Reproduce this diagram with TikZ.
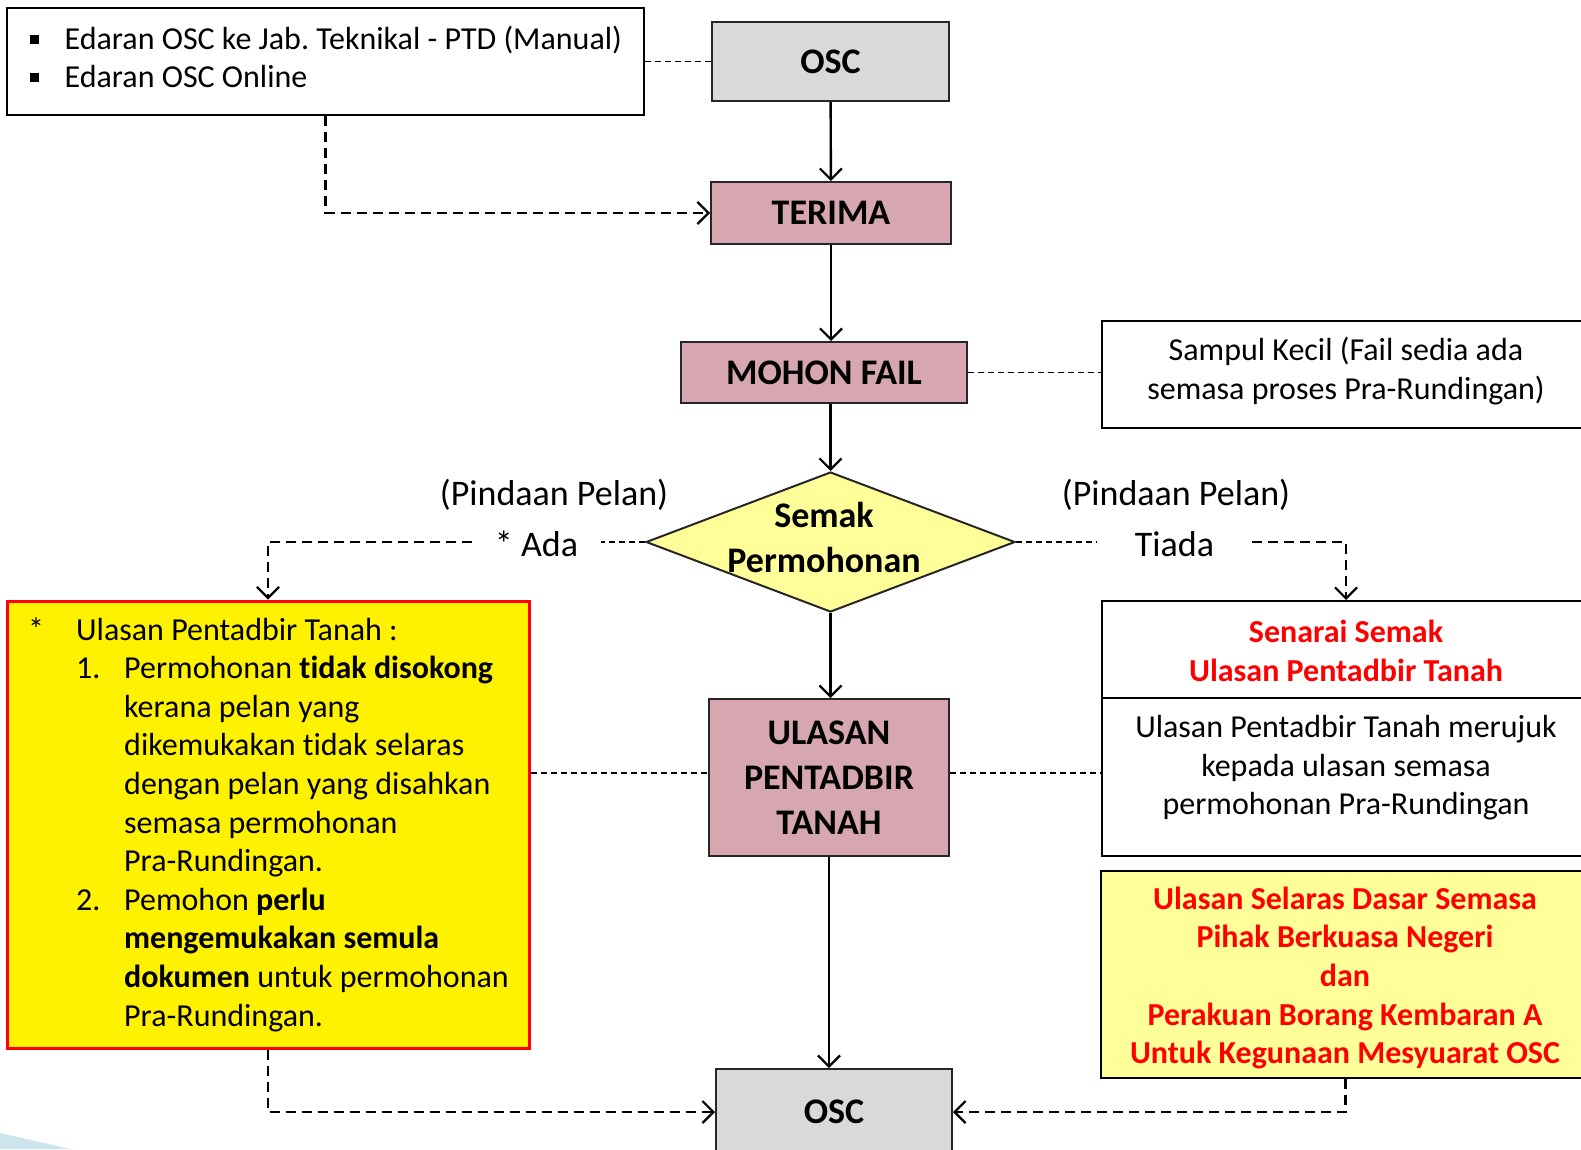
\documentclass[tikz,border=0pt]{standalone}
\usepackage{fontspec}
\setmainfont{Carlito}[Ligatures=NoCommon]
\usetikzlibrary{arrows.meta,shapes.geometric}
\definecolor{pinkbox}{RGB}{214,166,177}
\definecolor{graybox}{RGB}{217,217,217}
\definecolor{lyellow}{RGB}{255,255,153}
\definecolor{redtxt}{RGB}{255,0,0}
\definecolor{deco}{RGB}{205,228,238}
\newcommand{\bodyfont}{\fontsize{32}{38.6}\selectfont}
\newcommand{\lblfont}{\fontsize{36}{45}\selectfont\bfseries}
\newcommand{\midfont}{\fontsize{36}{44}\selectfont}
\frenchspacing
\begin{document}
\begin{tikzpicture}[x=1pt,y=-1pt,
  box/.style={draw=black!85,line width=2pt,inner sep=0pt,rectangle},
  tip/.style={-{Straight Barb[length=11pt,width=22pt,line width=2.2pt]}},
  flow/.style={line width=2.4pt,tip},
  thindash/.style={line width=1.7pt,dash pattern=on 6pt off 4pt},
  thickdash/.style={line width=2.8pt,dash pattern=on 10pt off 6pt},
]
\useasboundingbox (0,0) rectangle (1581,1149);
\fill[deco] (0,1133) -- (70,1149) -- (0,1149) -- cycle;

% main flow
\node[box,fill=graybox,minimum width=237pt,minimum height=79pt,font=\lblfont] (osc1) at (830.5,61.5) {OSC};
\node[box,fill=pinkbox,minimum width=240pt,minimum height=62pt,font=\lblfont] (terima) at (831,213) {TERIMA};
\node[box,fill=pinkbox,minimum width=286pt,minimum height=61pt,font=\lblfont] (mohon) at (824,372.5) {MOHON FAIL};
\node[diamond,draw=black!85,line width=2pt,fill=lyellow,inner sep=0pt,minimum width=369pt,minimum height=140pt] (semak) at (830.5,542) {};
\node[font=\lblfont,align=center] (semaktxt) at (824,537) {Semak\\Permohonan};
\node[box,fill=pinkbox,minimum width=240pt,minimum height=157pt,font=\lblfont,align=center] (ulasan) at (829,777.5) {ULASAN\\PENTADBIR\\TANAH};
\node[box,fill=graybox,minimum width=236pt,minimum height=86pt,font=\lblfont] (osc2) at (834,1112) {OSC};

% top-left note
\node[box,draw=black,minimum width=637pt,minimum height=107pt] (edaran) at (325.5,61.5) {};
\node[anchor=base west,inner sep=0pt,font=\bodyfont] (edarantxt) at (30,49) {\begin{tabular}[t]{@{}p{34.5pt}@{}l@{}}\raisebox{5.5pt}{\rule{9pt}{9pt}} & Edaran OSC ke Jab. Teknikal - PTD (Manual)\\ \raisebox{5.5pt}{\rule{9pt}{9pt}} & Edaran OSC Online\end{tabular}};

% Sampul
\node[box,draw=black,minimum width=488pt,minimum height=107pt] (sampul) at (1346,374.5) {};
\node[font=\bodyfont,align=center] (sampultxt) at (1346,371) {Sampul Kecil (Fail sedia ada\\semasa proses Pra-Rundingan)};

% Senarai semak
\node[box,draw=black,minimum width=488pt,minimum height=255pt] (senarai) at (1346,728.5) {};
\coordinate (divL) at (1102,698);
\coordinate (divR) at (1590,698);
\draw[line width=2pt] (divL) -- (divR);
\node[font=\bodyfont\bfseries,text=redtxt,align=center] (senaraititle) at (1346,651) {Senarai Semak\\Ulasan Pentadbir Tanah};
\node[font=\bodyfont,align=center] (senaraitxt) at (1346,768) {Ulasan Pentadbir Tanah merujuk\\kepada ulasan semasa\\permohonan Pra-Rundingan};

% right yellow
\node[box,draw=black,fill=lyellow,minimum width=489pt,minimum height=207pt] (pbn) at (1345.5,974.5) {};
\node[font=\bodyfont\bfseries,text=redtxt,align=center] (pbntxt) at (1345,978) {Ulasan Selaras Dasar Semasa\\Pihak Berkuasa Negeri\\dan\\Perakuan Borang Kembaran A\\Untuk Kegunaan Mesyuarat OSC};

% left yellow
\node[draw=redtxt,line width=3pt,fill=yellow,inner sep=0pt,minimum width=522pt,minimum height=447pt] (pta) at (268,824.5) {};
\node[anchor=base west,inner sep=0pt,font=\bodyfont] (ptatxt) at (28,640) {\begin{tabular}[t]{@{}p{48pt}@{}p{48pt}@{}l@{}}
* & \multicolumn{2}{@{}l@{}}{Ulasan Pentadbir Tanah :}\\
& 1. & Permohonan \textbf{tidak disokong}\\
&& kerana pelan yang\\
&& dikemukakan tidak selaras\\
&& dengan pelan yang disahkan\\
&& semasa permohonan\\
&& Pra-Rundingan.\\
& 2. & Pemohon \textbf{perlu}\\
&& \textbf{mengemukakan semula}\\
&& \textbf{dokumen} untuk permohonan\\
&& Pra-Rundingan.
\end{tabular}};

% labels
\node[font=\midfont] (pindaanL) at (554,495) {(Pindaan Pelan)};
\node[font=\midfont,minimum width=129pt,inner sep=0pt] (ada) at (536.5,544) {* Ada};
\node[font=\midfont] (pindaanR) at (1176,495) {(Pindaan Pelan)};
\node[font=\midfont,minimum width=155pt,inner sep=0pt] (tiada) at (1174.5,544) {Tiada};

% solid flow
\draw[flow] (osc1) -- (terima);
\draw[flow] (terima.south) -- (terima.south |- mohon.north);
\draw[flow] (mohon.south -| semak.north) -- (semak.north);
\draw[flow] (semak.south) -- (semak.south |- ulasan.north);
\draw[flow] (ulasan.south) -- (ulasan.south |- osc2.north);

% dashed
\coordinate (ulmid) at (829,773);
\draw[thindash] (edaran.east) -- (osc1.west);
\draw[thickdash,tip] (edaran.south) |- (terima.west);
\draw[thindash] (mohon.east) -- (mohon.east -| sampul.west);
\draw[thindash] (semak.west) -- (semak.west -| ada.east);
\draw[thickdash,tip] (ada.west |- semak.west) -| (pta.north);
\draw[thindash] (semak.east) -- (semak.east -| tiada.west);
\draw[thickdash,tip] (tiada.east |- semak.east) -| (senarai.north);
\draw[thindash] (pta.east |- ulmid) -- (ulasan.west |- ulmid);
\draw[thindash] (ulasan.east |- ulmid) -- (senarai.west |- ulmid);
\draw[thickdash,tip] (pta.south) |- (osc2.west);
\draw[thickdash,tip] (pbn.south) |- (osc2.east);
\end{tikzpicture}
\end{document}
